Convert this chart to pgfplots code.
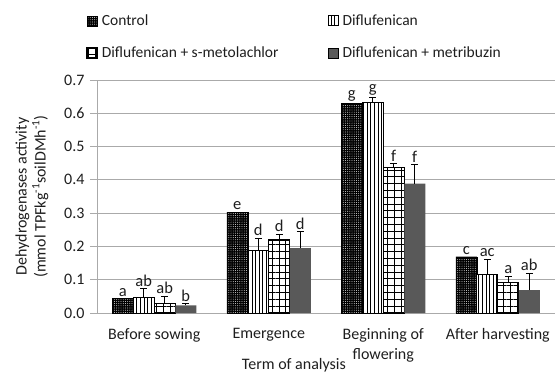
\documentclass[border=0pt]{standalone}
\usepackage{pgfplots}
\pgfplotsset{compat=1.18}
\usepackage{pgfplotstable}
\usetikzlibrary{patterns.meta}
\usepackage{fontspec}
\setmainfont{Carlito}
\definecolor{txt}{RGB}{30,30,30}
\definecolor{gridc}{RGB}{170,170,170}
\definecolor{metr}{RGB}{89,89,89}

\pgfplotstableread{
x y e l
0 0.044 0 a
1 0.303 0 e
2 0.630 0 g
3 0.169 0 c
}\ctrl
\pgfplotstableread{
x y e l
0 0.046 0.027 ab
1 0.189 0.035 d
2 0.632 0.015 g
3 0.115 0.046 ac
}\dif
\pgfplotstableread{
x y e l
0 0.029 0.021 ab
1 0.219 0.017 d
2 0.438 0.010 f
3 0.092 0.018 a
}\smet
\pgfplotstableread{
x y e l
0 0.023 0.006 b
1 0.195 0.050 d
2 0.389 0.057 f
3 0.069 0.051 ab
}\metrib

\begin{document}
\fontsize{16}{19}\selectfont
\begin{tikzpicture}
\begin{axis}[
  name=ax,
  scale only axis,
  width=458pt, height=233pt,
  ybar=0pt, bar width=21pt,
  xmin=-0.5, xmax=3.5,
  ymin=0, ymax=0.7,
  ytick={0,0.1,...,0.7},
  xtick={0,1,2,3},
  xticklabels={Before sowing,Emergence,{Beginning of\\flowering},After harvesting},
  xticklabel style={align=center, text=txt, font=\fontsize{16}{20}\selectfont, yshift=-3pt},
  yticklabel style={text=txt, font=\fontsize{16}{19}\selectfont,
    /pgf/number format/fixed, /pgf/number format/precision=1, /pgf/number format/fixed zerofill},
  /pgf/number format/assume math mode=true,
  x tick style={draw=none},
  y tick style={draw=gridc, line width=0.8pt},
  major tick length=7pt,
  tick align=outside,
  ymajorgrids,
  grid style={gridc, line width=0.8pt},
  axis x line*=bottom, axis y line*=left,
  axis line style={gridc, line width=0.8pt, -},
  ylabel={Dehydrogenases activity\\(mmol TPFkg\textsuperscript{-1}soilDMh\textsuperscript{-1})},
  ylabel style={align=center, text=txt, font=\fontsize{16}{19}\selectfont, at={(axis description cs:-0.142,0.5)}, anchor=center},
  xlabel={Term of analysis},
  xlabel style={text=txt, font=\fontsize{16}{19}\selectfont, at={(axis description cs:0.43,-0.225)}, anchor=center},
  legend columns=2,
  legend style={draw=none, fill=none, at={(axis description cs:-0.03,1.30)}, anchor=north west,
     /tikz/every odd column/.append style={column sep=2pt},
     /tikz/every even column/.append style={column sep=0pt},
     row sep=15pt, font=\fontsize{15.5}{18}\selectfont, text=txt, cells={anchor=west}},
  legend image code/.code={\draw[#1] (0pt,-5pt) rectangle (10pt,5pt);},
  point meta=explicit symbolic,
  nodes near coords,
  visualization depends on={\thisrow{e} \as \myerr},
  nodes near coords style={text=txt, font=\fontsize{16.5}{19}\selectfont, shift={(axis direction cs:0,\myerr)}, anchor=south, inner sep=2pt},
  error bars/y dir=plus, error bars/y explicit,
  error bars/error mark options={rotate=90, mark size=3.5pt, line width=0.9pt, black},
  error bars/error bar style={line width=0.9pt, black},
]
\addplot+[fill=black, draw=black, line width=0.4pt,
  postaction={pattern={Dots[distance=2.2pt, radius=0.45pt]}, pattern color=white},
  error bars/y dir=none]
  table[x=x, y=y, meta=l] {\ctrl};
\addlegendentry{\makebox[224pt][l]{Control}}
\addplot+[fill=white, draw=black, line width=0.8pt,
  postaction={pattern={Lines[angle=90, distance=3.6pt, line width=0.9pt]}, pattern color=black}]
  table[x=x, y=y, y error=e, meta=l] {\dif};
\addlegendentry{Diflufenican}
\addplot+[fill=white, draw=black, line width=1.4pt,
  postaction={pattern={Hatch[angle=0, distance=6.8pt, line width=0.6pt]}, pattern color=black}]
  table[x=x, y=y, y error=e, meta=l] {\smet};
\addlegendentry{\makebox[224pt][l]{Diflufenican + s-metolachlor}}
\addplot+[fill=metr, draw=none]
  table[x=x, y=y, y error=e, meta=l] {\metrib};
\addlegendentry{Diflufenican + metribuzin}
\end{axis}
\pgfresetboundingbox
\useasboundingbox ([xshift=-97pt,yshift=-61pt]ax.south west) rectangle ([xshift=3pt,yshift=80pt]ax.north east);
\end{tikzpicture}
\end{document}
